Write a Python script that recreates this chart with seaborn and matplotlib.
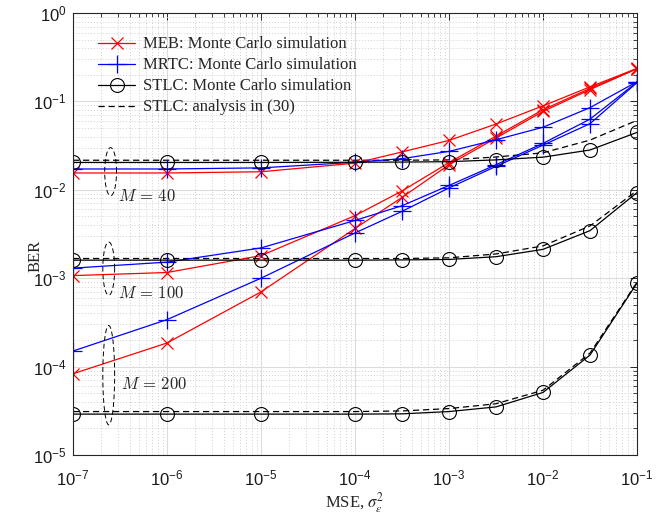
import numpy as np
import pandas as pd
import seaborn as sns
import matplotlib
matplotlib.use("Agg")
import matplotlib.pyplot as plt
from matplotlib.lines import Line2D
from matplotlib.ticker import LogLocator, NullFormatter

# MSE values of the channel estimate
mse = [1e-7, 1e-6, 1e-5, 1e-4, 10**-3.5, 1e-3, 10**-2.5, 1e-2, 10**-1.5, 1e-1]

# MEB, Monte Carlo simulation
meb_40 = [0.0155, 0.0155, 0.0160, 0.0200, 0.0268, 0.0362, 0.0555, 0.0890, 0.146, 0.236]
meb_100 = [0.00107, 0.00116, 0.00180, 0.00510, 0.0097, 0.0203, 0.0405, 0.0805, 0.140, 0.235]
meb_200 = [8.3e-5, 1.85e-4, 7.0e-4, 0.00365, 0.0082, 0.0192, 0.0385, 0.0770, 0.136, 0.234]

# MRTC, Monte Carlo simulation
mrtc_40 = [0.0172, 0.0172, 0.0177, 0.0205, 0.0225, 0.0272, 0.0368, 0.0510, 0.085, 0.167]
mrtc_100 = [0.00130, 0.00152, 0.00220, 0.00450, 0.0066, 0.0112, 0.0192, 0.0335, 0.063, 0.165]
mrtc_200 = [1.5e-4, 3.4e-4, 1.0e-3, 0.00325, 0.0057, 0.0105, 0.0184, 0.0320, 0.056, 0.163]

# STLC, Monte Carlo simulation
stlc_40 = [0.0204, 0.0204, 0.0204, 0.0205, 0.0206, 0.0208, 0.0218, 0.0234, 0.0282, 0.0446]
stlc_100 = [0.00160, 0.00160, 0.00160, 0.00160, 0.00161, 0.00163, 0.00175, 0.00212, 0.00345, 0.0093]
stlc_200 = [2.9e-5, 2.9e-5, 2.9e-5, 2.9e-5, 2.92e-5, 3.1e-5, 3.5e-5, 5.1e-5, 1.35e-4, 8.8e-4]

# STLC, analytical result
ana_40 = [0.0216, 0.0216, 0.0216, 0.0216, 0.0216, 0.0218, 0.0235, 0.0262, 0.0365, 0.061]
ana_100 = [0.00167, 0.00167, 0.00167, 0.00167, 0.00167, 0.00170, 0.00188, 0.00232, 0.0039, 0.0098]
ana_200 = [3.1e-5, 3.1e-5, 3.1e-5, 3.1e-5, 3.15e-5, 3.35e-5, 3.8e-5, 5.4e-5, 1.42e-4, 9.0e-4]

legend_labels = ["MEB: Monte Carlo simulation", "MRTC: Monte Carlo simulation",
                 "STLC: Monte Carlo simulation", "STLC: analysis in (30)"]
group_labels = [r"$M\,=\,40$", r"$M\,=\,100$", r"$M\,=\,200$"]

sns.set_theme(style="white")
plt.rcParams["font.family"] = ["Liberation Serif", "DejaVu Serif"]
plt.rcParams["mathtext.fontset"] = "custom"
plt.rcParams["mathtext.rm"] = "Liberation Sans"
plt.rcParams["mathtext.it"] = "Liberation Sans:italic"
plt.rcParams["mathtext.bf"] = "Liberation Sans:bold"

W, H = 669, 517
L, R, T, B = 73, 637, 13, 455
fig = plt.figure(figsize=(W / 100, H / 100), dpi=100)
ax = fig.add_axes([L / W, 1 - B / H, (R - L) / W, (B - T) / H])
ax.set_xscale("log")
ax.set_yscale("log")

lw = 0.9
DASH = (0, (5, 3))
marker_styles = {
    "meb": dict(marker="x", markersize=9, markeredgewidth=0.9,
                markeredgecolor="#ff0000", markerfacecolor="none"),
    "mrtc": dict(marker="+", markersize=13, markeredgewidth=0.9,
                 markeredgecolor="#0000ff", markerfacecolor="none"),
    "stlc": dict(marker="o", markersize=10, markeredgewidth=0.8,
                 markeredgecolor="black", markerfacecolor="none"),
}
line_colors = {"meb": "#ff0000", "mrtc": "#0000ff", "stlc": "black"}

series = [
    ("meb", [meb_40, meb_100, meb_200]),
    ("mrtc", [mrtc_40, mrtc_100, mrtc_200]),
    ("stlc", [stlc_40, stlc_100, stlc_200]),
]

# analytical curves first, so the simulated markers sit on top
for vals in [ana_40, ana_100, ana_200]:
    df = pd.DataFrame({"mse": mse, "ber": vals})
    sns.lineplot(data=df, x="mse", y="ber", ax=ax, color="black", lw=lw,
                 linestyle=DASH, estimator=None, sort=False, legend=False)

for key, groups in series:
    for vals in groups:
        df = pd.DataFrame({"mse": mse, "ber": vals})
        sns.lineplot(data=df, x="mse", y="ber", ax=ax, lw=lw, color=line_colors[key],
                     estimator=None, sort=False, legend=False)
        ax.lines[-1].set(**marker_styles[key])

# dashed ellipses grouping the curves of each M
t = np.linspace(0, 2 * np.pi, 200)
for cx, cy, rx, ry in [(-6.60, -1.795, 0.063, 0.272),
                       (-6.62, -2.892, 0.063, 0.301),
                       (-6.62, -4.097, 0.063, 0.562)]:
    ax.plot(10 ** (cx + rx * np.cos(t)), 10 ** (cy + ry * np.sin(t)),
            color="black", lw=0.7, linestyle=DASH)

for txt, x, y in zip(group_labels, [3.0e-7, 3.0e-7, 3.25e-7], [0.0082, 6.6e-4, 6.2e-5]):
    ax.text(x, y, txt, fontsize=12, ha="left", va="center", math_fontfamily="cm")

ax.set_xlim(1e-7, 1e-1)
ax.set_ylim(1e-5, 1)
ax.xaxis.set_major_locator(LogLocator(base=10, numticks=20))
ax.yaxis.set_major_locator(LogLocator(base=10, numticks=20))
ax.xaxis.set_minor_locator(LogLocator(base=10, subs=np.arange(2, 10), numticks=20))
ax.yaxis.set_minor_locator(LogLocator(base=10, subs=np.arange(2, 10), numticks=20))
ax.xaxis.set_minor_formatter(NullFormatter())
ax.yaxis.set_minor_formatter(NullFormatter())

ax.grid(True, which="major", color="#dcdcdc", lw=0.8, linestyle="-")
ax.grid(True, which="minor", color="#d0d0d0", lw=0.7, linestyle=(0, (1, 2)))
ax.set_axisbelow(True)

axis_col = "#262626"
for s in ax.spines.values():
    s.set_color(axis_col)
    s.set_linewidth(0.8)
ax.tick_params(which="both", direction="in", top=True, right=True, colors=axis_col,
               labelcolor="#1a1a1a", labelsize=12)
ax.tick_params(which="major", length=5, width=0.7)
ax.tick_params(which="minor", length=3, width=0.6)
ax.tick_params(axis="x", which="major", pad=10)
ax.tick_params(axis="y", which="major", pad=4.5)
for lab in ax.get_xticklabels() + ax.get_yticklabels():
    lab.set_fontfamily("Liberation Sans")

ax.set_xlabel(r"MSE, $\sigma_\epsilon^2$", fontsize=12, math_fontfamily="stix")
ax.set_ylabel("BER", fontsize=12)
ax.xaxis.set_label_coords(0.5, -0.08)
ax.yaxis.set_label_coords(-0.053, 0.45)

handles = [
    Line2D([], [], lw=lw, color=line_colors["meb"], **marker_styles["meb"]),
    Line2D([], [], lw=lw, color=line_colors["mrtc"], **marker_styles["mrtc"]),
    Line2D([], [], lw=lw, color=line_colors["stlc"], **marker_styles["stlc"]),
    Line2D([], [], lw=lw, color="black", linestyle=DASH),
]
ax.legend(handles, legend_labels, loc="upper left", bbox_to_anchor=(0.033, 0.962),
          frameon=False, fontsize=12, handlelength=2.2, handletextpad=0.5,
          labelspacing=0.3, borderaxespad=0.0)

fig.savefig("out.png", dpi=100)
